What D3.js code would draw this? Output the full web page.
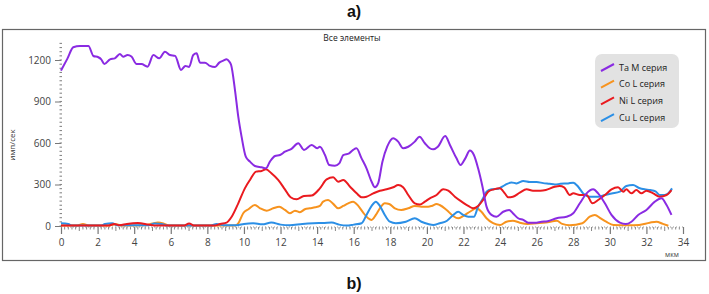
<!DOCTYPE html>
<html><head><meta charset="utf-8">
<script src="https://cdn.jsdelivr.net/npm/d3@7"></script>
<style>
html,body{margin:0;padding:0;background:#fff;}
svg{display:block;}
</style></head>
<body>
<svg id="chart" width="709" height="294"></svg>
<script>
// ---- data ----
const seriesNames = ["Ta M серия", "Co L серия", "Ni L серия", "Cu L серия"];
const xTicks = [0,2,4,6,8,10,12,14,16,18,20,22,24,26,28,30,32,34];
const yTicks = [0,300,600,900,1200];

const taM = [[0,1123],[0.35,1210],[0.67,1292],[1.04,1301],[1.5,1301],[1.77,1229],[2.04,1220],[2.2,1205],[2.37,1171],[2.68,1205],[2.94,1212],[3.22,1243],[3.4,1224],[3.64,1236],[3.85,1225],[4.13,1171],[4.4,1171],[4.73,1152],[5.05,1236],[5.37,1212],[5.68,1260],[5.96,1236],[6.24,1230],[6.56,1128],[6.8,1157],[7.0,1150],[7.23,1236],[7.41,1248],[7.6,1181],[7.87,1181],[8.14,1157],[8.42,1149],[8.65,1181],[8.87,1195],[9.05,1205],[9.2,1188],[9.3,1164],[9.51,983],[9.69,790],[9.87,646],[10.1,501],[10.33,465],[10.6,434],[10.97,424],[11.2,417],[11.42,465],[11.7,506],[11.97,513],[12.24,537],[12.6,558],[12.97,598],[13.28,550],[13.7,586],[14.0,562],[14.15,573],[14.43,513],[14.66,441],[14.97,436],[15.21,453],[15.43,513],[15.75,525],[15.97,550],[16.15,562],[16.43,489],[16.7,417],[16.98,320],[17.16,280],[17.34,310],[17.57,465],[17.83,573],[18.16,634],[18.43,610],[18.7,562],[18.98,573],[19.34,610],[19.6,646],[19.89,598],[20.16,562],[20.35,554],[20.6,573],[21.0,650],[21.26,586],[21.62,489],[21.84,441],[22.1,489],[22.35,545],[22.57,513],[22.8,417],[23.04,284],[23.26,140],[23.53,80],[23.8,67],[24.17,103],[24.5,116],[24.7,92],[24.99,56],[25.27,44],[25.54,24],[25.9,24],[26.27,31],[26.6,35],[27.09,56],[27.63,67],[28.0,92],[28.36,164],[28.73,236],[29.09,265],[29.36,236],[29.73,164],[30.09,80],[30.55,24],[30.87,14],[31.18,31],[31.55,80],[32.0,116],[32.46,176],[32.82,200],[33.1,152],[33.37,80]];

const coL = [[0,3],[0.9,3],[1.2,15],[1.5,3],[2.5,3],[3.0,12],[3.4,3],[4.6,5],[5.0,18],[5.3,25],[5.6,18],[5.9,3],[9.5,3],[9.69,19],[9.96,92],[10.24,121],[10.6,152],[10.88,128],[11.24,111],[11.6,128],[11.93,140],[12.24,116],[12.51,92],[12.79,111],[13.06,100],[13.33,121],[13.6,128],[13.9,135],[14.15,145],[14.33,176],[14.6,188],[14.88,160],[15.15,128],[15.43,145],[15.7,164],[15.97,176],[16.25,145],[16.52,96],[16.79,56],[16.98,44],[17.21,80],[17.43,128],[17.7,164],[17.94,159],[18.25,128],[18.6,116],[18.98,128],[19.34,145],[19.7,140],[20.07,140],[20.26,145],[20.53,159],[20.7,152],[21.08,116],[21.44,72],[21.71,56],[21.98,72],[22.35,103],[22.71,128],[22.98,103],[23.26,56],[23.62,20],[24,7],[24.35,31],[24.7,38],[25.08,24],[25.5,15],[26,20],[26.5,25],[27.1,38],[27.4,15],[27.8,5],[28.5,20],[28.9,67],[29.18,80],[29.5,55],[29.8,31],[30.2,7],[31,5],[31.6,8],[32.18,24],[32.55,31],[32.9,15],[33.2,2]];

const niL = [[0,3],[2.6,3],[2.9,15],[3.2,5],[3.6,15],[4.2,22],[4.8,10],[5.2,3],[6.7,3],[7.0,18],[7.3,3],[8.4,3],[8.7,15],[9.05,24],[9.33,67],[9.69,164],[10.05,272],[10.33,333],[10.66,393],[10.97,398],[11.2,410],[11.5,381],[11.87,333],[12.24,265],[12.55,208],[12.88,193],[13.28,217],[13.7,220],[14.15,272],[14.52,337],[14.88,352],[15.15,320],[15.43,333],[15.8,284],[16.16,236],[16.43,208],[16.7,212],[17.07,236],[17.43,255],[17.8,265],[18.16,280],[18.43,296],[18.7,280],[18.98,224],[19.34,164],[19.62,155],[19.89,176],[20.16,200],[20.53,224],[20.89,265],[21.17,255],[21.53,212],[21.9,176],[22.26,145],[22.53,128],[22.8,145],[23.07,188],[23.35,248],[23.66,265],[23.99,272],[24.26,236],[24.44,208],[24.7,212],[25.08,241],[25.45,265],[25.8,255],[26.2,255],[26.5,260],[26.99,284],[27.26,289],[27.5,280],[27.81,224],[28.0,236],[28.36,224],[28.73,224],[29.05,164],[29.36,188],[29.73,224],[30.09,265],[30.45,280],[30.73,248],[30.9,265],[31.18,236],[31.45,260],[31.73,236],[32.0,255],[32.37,236],[32.73,212],[33.1,224],[33.37,260]];

const cuL = [[0,20],[0.4,15],[0.6,3],[2.2,3],[2.4,15],[2.8,20],[3.1,5],[4.8,5],[5.1,18],[5.5,15],[5.8,3],[8.2,3],[8.5,15],[8.9,5],[9.6,5],[10.0,15],[10.5,20],[11,12],[11.5,25],[12,10],[12.5,5],[13.2,15],[13.8,20],[14.4,22],[14.8,25],[15.2,10],[15.6,3],[16.0,10],[16.43,20],[16.7,80],[16.98,145],[17.21,176],[17.43,145],[17.7,80],[17.98,31],[18.3,20],[18.85,31],[19.34,56],[19.7,31],[20.07,14],[20.35,7],[20.7,20],[21.1,38],[21.44,80],[21.71,103],[21.98,80],[22.26,67],[22.57,67],[22.8,140],[23.07,200],[23.26,248],[23.53,265],[23.9,270],[24.26,296],[24.63,315],[24.9,308],[25.27,325],[25.63,318],[26.0,318],[26.36,310],[26.7,305],[27.0,300],[27.3,305],[27.72,308],[28.0,313],[28.27,284],[28.54,236],[28.9,212],[29.36,212],[29.73,224],[30.1,235],[30.55,248],[30.9,289],[31.27,296],[31.6,275],[31.9,265],[32.2,260],[32.5,250],[32.73,224],[33.0,225],[33.2,236],[33.4,272]];

const seriesData = [taM, coL, niL, cuL];
const seriesColors = ["#8a2be2", "#f7931e", "#ea1a1f", "#2b8fe6"];

// ---- drawing ----
const svg = d3.select("#chart");
const font = "'Open Sans', 'Noto Sans', sans-serif";

svg.append("text").attr("x", 354).attr("y", 17).attr("text-anchor","middle")
  .attr("font-family","'Liberation Sans', Arial, sans-serif").attr("font-weight","bold")
  .attr("font-size",16).attr("fill","#111").text("a)");
svg.append("text").attr("x", 354).attr("y", 289).attr("text-anchor","middle")
  .attr("font-family","'Liberation Sans', Arial, sans-serif").attr("font-weight","bold")
  .attr("font-size",16).attr("fill","#111").text("b)");

svg.append("rect").attr("x",2.5).attr("y",29.5).attr("width",703).attr("height",231)
  .attr("fill","#fff").attr("stroke","#666").attr("stroke-width",1.2);

svg.append("text").attr("x", 352).attr("y", 41).attr("text-anchor","middle")
  .attr("font-family",font).attr("font-size",8.5).attr("fill","#222").text("Все элементы");

const x = d3.scaleLinear().domain([0,34]).range([61,683]);
const y = d3.scaleLinear().domain([0,1200]).range([226,60]);

// x axis
const xAxis = d3.axisBottom(x).tickValues(xTicks).tickSize(7).tickFormat(d3.format("d"));
const gx = svg.append("g").attr("transform","translate(0,227)").call(xAxis);
gx.select(".domain").remove();
gx.selectAll(".tick line").attr("stroke","#777").attr("stroke-width",1.2);
gx.selectAll(".tick text").attr("font-family",font).attr("font-size",10).attr("fill","#444").attr("dy","0.9em");
// minor x ticks
const xMinor = d3.range(0, 34.01, 0.2).filter(v => Math.abs(v/2 - Math.round(v/2)) > 1e-6);
svg.append("g").selectAll("line").data(xMinor).join("line")
  .attr("x1", d => x(d)).attr("x2", d => x(d))
  .attr("y1", 227).attr("y2", d => Math.abs(d - Math.round(d)) < 1e-6 ? 231 : 229.5)
  .attr("stroke","#888").attr("stroke-width",1);
svg.append("line").attr("x1", x(0)).attr("x2", x(34)).attr("y1",227).attr("y2",227)
  .attr("stroke","#999").attr("stroke-width",1).attr("stroke-dasharray","1,2");

// y axis
const yAxis = d3.axisLeft(y).tickValues(yTicks).tickSize(6).tickFormat(d3.format("d"));
const gy = svg.append("g").attr("transform","translate(61,0)").call(yAxis);
gy.select(".domain").remove();
gy.selectAll(".tick line").attr("stroke","#777").attr("stroke-width",1);
gy.selectAll(".tick text").attr("font-family",font).attr("font-size",10).attr("fill","#444").attr("dx","-1");
const yMinor = d3.range(0, 1321, 30);
svg.append("g").selectAll("line").data(yMinor).join("line")
  .attr("x1", 59.5).attr("x2", 62).attr("y1", d => y(d)).attr("y2", d => y(d))
  .attr("stroke","#888").attr("stroke-width",1.1);

svg.append("text").attr("transform","translate(15,145) rotate(-90)").attr("text-anchor","middle")
  .attr("font-family",font).attr("font-size",8).attr("fill","#333").text("имп/сек");
svg.append("text").attr("x", 672).attr("y", 257).attr("text-anchor","middle")
  .attr("font-family",font).attr("font-size",7).attr("fill","#444").text("мкм");

// lines
const line = d3.line().x(d => x(d[0])).y(d => y(d[1])).curve(d3.curveMonotoneX);
const order = [1,3,2,0];
order.forEach(i => {
  svg.append("path").datum(seriesData[i]).attr("d", line)
    .attr("fill","none").attr("stroke", seriesColors[i]).attr("stroke-width",2)
    .attr("stroke-linejoin","round");
});

// legend
const lg = svg.append("g");
lg.append("rect").attr("x",595).attr("y",54).attr("width",84).attr("height",74)
  .attr("rx",7).attr("fill","#e2e2e2");
seriesNames.forEach((n,i) => {
  const yy = 67 + i*16.7;
  lg.append("line").attr("x1",601).attr("y1",yy+4).attr("x2",614).attr("y2",yy-3)
    .attr("stroke",seriesColors[i]).attr("stroke-width",2);
  lg.append("text").attr("x",619).attr("y",yy+3.5).attr("font-family",font)
    .attr("font-size",9).attr("fill","#222").text(n);
});
</script>
</body></html>
